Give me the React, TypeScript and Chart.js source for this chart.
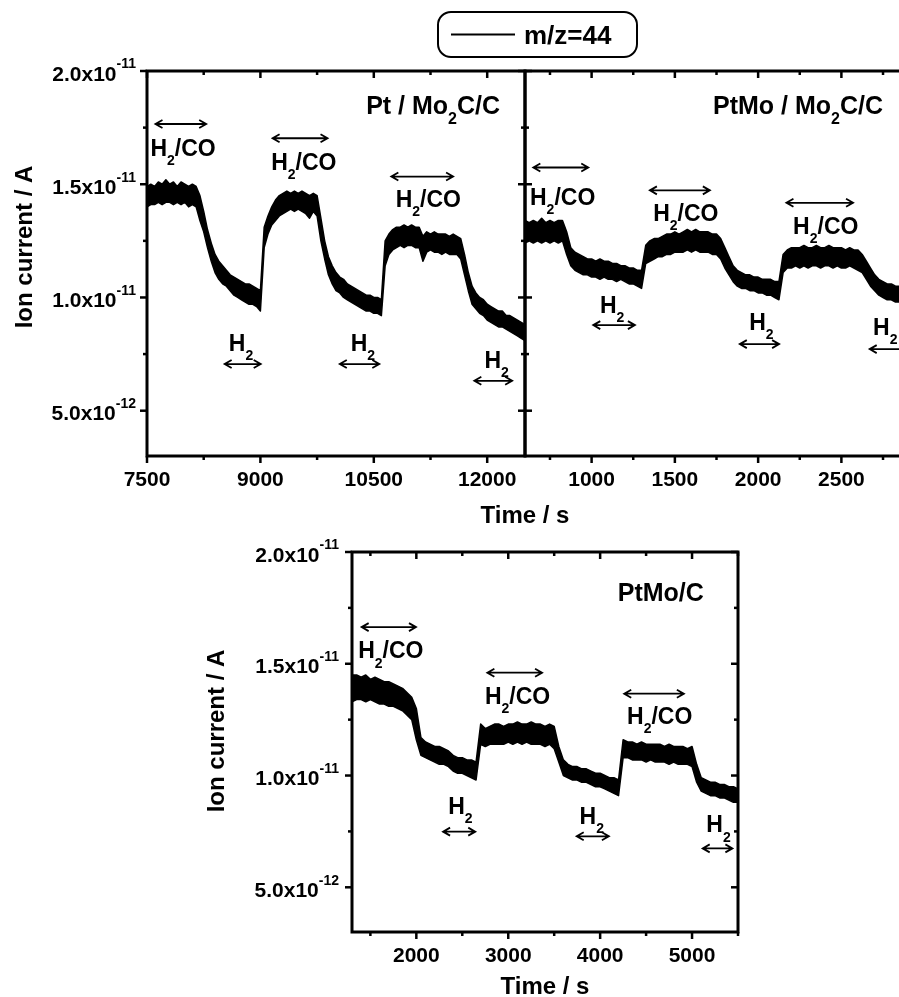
import React, { useEffect, useRef } from "react";
import { Chart, registerables } from "chart.js";

Chart.register(...registerables);

const FONT_FAMILY = '"Liberation Sans", Arial, Helvetica, sans-serif';

// ---------- Data (ion current in units of 1e-11 A) ----------
// The noisy m/z=44 trace is described by the upper and lower edges of its noise band.
// Panel 1: Pt / Mo2C/C, sampled every 50 s from 7500 s
const P1_T_START = 7500;
const P1_T_STEP = 50;
const P1_UPPER = [
  1.49, 1.50, 1.49, 1.51, 1.50, 1.52, 1.50, 1.51, 1.49, 1.51,
  1.50, 1.49, 1.50, 1.49, 1.45, 1.38, 1.30, 1.24, 1.19, 1.16,
  1.14, 1.12, 1.10, 1.09, 1.08, 1.07, 1.06, 1.06, 1.05, 1.04,
  1.03, 1.31, 1.36, 1.40, 1.43, 1.45, 1.46, 1.47, 1.46, 1.47,
  1.46, 1.47, 1.46, 1.45, 1.46, 1.45, 1.35, 1.25, 1.18, 1.14,
  1.11, 1.09, 1.08, 1.06, 1.05, 1.04, 1.03, 1.02, 1.01, 1.01,
  1.00, 1.00, 0.99, 1.25, 1.28, 1.30, 1.31, 1.31, 1.32, 1.31,
  1.32, 1.31, 1.31, 1.27, 1.29, 1.28, 1.29, 1.28, 1.28, 1.28,
  1.27, 1.28, 1.27, 1.26, 1.19, 1.11, 1.05, 1.02, 1.00, 0.99,
  0.97, 0.96, 0.95, 0.94, 0.94, 0.92, 0.92, 0.91, 0.90, 0.89,
  0.88,
];
const P1_LOWER = [
  1.40, 1.41, 1.41, 1.42, 1.41, 1.42, 1.42, 1.41, 1.42, 1.41,
  1.42, 1.40, 1.41, 1.40, 1.34, 1.29, 1.22, 1.16, 1.11, 1.08,
  1.06, 1.05, 1.03, 1.01, 1.00, 0.99, 0.98, 0.97, 0.97, 0.96,
  0.94, 1.22, 1.28, 1.32, 1.34, 1.36, 1.37, 1.38, 1.39, 1.38,
  1.39, 1.38, 1.37, 1.35, 1.38, 1.36, 1.25, 1.17, 1.10, 1.06,
  1.03, 1.02, 1.00, 0.99, 0.98, 0.97, 0.96, 0.95, 0.94, 0.94,
  0.93, 0.93, 0.92, 1.14, 1.19, 1.21, 1.22, 1.23, 1.22, 1.23,
  1.23, 1.22, 1.22, 1.16, 1.20, 1.21, 1.20, 1.20, 1.19, 1.20,
  1.19, 1.19, 1.19, 1.17, 1.10, 1.03, 0.97, 0.95, 0.93, 0.92,
  0.90, 0.89, 0.88, 0.87, 0.87, 0.86, 0.85, 0.84, 0.83, 0.82,
  0.81,
];

// Panel 2: PtMo / Mo2C/C, sampled every 25 s from 600 s
const P2_T_START = 600;
const P2_T_STEP = 25;
const P2_UPPER = [
  1.34, 1.33, 1.34, 1.33, 1.35, 1.33, 1.34, 1.33, 1.34, 1.34,
  1.29, 1.22, 1.20, 1.19, 1.18, 1.17, 1.17, 1.16, 1.17, 1.16,
  1.16, 1.15, 1.15, 1.14, 1.14, 1.13, 1.13, 1.12, 1.12, 1.23,
  1.25, 1.26, 1.26, 1.27, 1.28, 1.28, 1.29, 1.28, 1.29, 1.30,
  1.29, 1.30, 1.29, 1.29, 1.29, 1.28, 1.28, 1.26, 1.22, 1.18,
  1.14, 1.12, 1.11, 1.10, 1.10, 1.09, 1.09, 1.08, 1.08, 1.08,
  1.07, 1.07, 1.19, 1.21, 1.22, 1.22, 1.22, 1.23, 1.22, 1.22,
  1.23, 1.22, 1.22, 1.23, 1.22, 1.22, 1.22, 1.21, 1.22, 1.21,
  1.21, 1.19, 1.16, 1.13, 1.10, 1.08, 1.07, 1.06, 1.06, 1.05,
  1.05, 1.04, 1.04,
];
const P2_LOWER = [
  1.24, 1.25, 1.24, 1.25, 1.24, 1.25, 1.24, 1.25, 1.24, 1.25,
  1.19, 1.14, 1.12, 1.11, 1.10, 1.10, 1.09, 1.09, 1.08, 1.09,
  1.08, 1.08, 1.07, 1.08, 1.07, 1.06, 1.06, 1.05, 1.04, 1.15,
  1.16, 1.17, 1.18, 1.18, 1.19, 1.19, 1.20, 1.20, 1.20, 1.21,
  1.20, 1.21, 1.20, 1.20, 1.20, 1.19, 1.19, 1.17, 1.13, 1.10,
  1.07, 1.05, 1.04, 1.04, 1.03, 1.03, 1.02, 1.02, 1.01, 1.01,
  1.00, 0.99, 1.11, 1.13, 1.13, 1.14, 1.13, 1.14, 1.13, 1.14,
  1.14, 1.13, 1.14, 1.14, 1.13, 1.14, 1.13, 1.13, 1.14, 1.13,
  1.12, 1.11, 1.08, 1.05, 1.03, 1.01, 1.00, 0.99, 0.99, 0.98,
  0.98, 0.97, 0.97,
];

// Panel 3: PtMo/C, sampled every 50 s from 1300 s
const P3_T_START = 1300;
const P3_T_STEP = 50;
const P3_UPPER = [
  1.45, 1.45, 1.44, 1.45, 1.43, 1.44, 1.43, 1.42, 1.42, 1.41,
  1.40, 1.39, 1.37, 1.35, 1.30, 1.17, 1.15, 1.14, 1.13, 1.13,
  1.12, 1.11, 1.09, 1.08, 1.08, 1.07, 1.07, 1.06, 1.23, 1.21,
  1.22, 1.23, 1.23, 1.22, 1.23, 1.23, 1.24, 1.23, 1.23, 1.24,
  1.23, 1.23, 1.22, 1.23, 1.22, 1.13, 1.07, 1.05, 1.04, 1.04,
  1.03, 1.03, 1.02, 1.01, 1.01, 1.00, 0.99, 0.99, 0.98, 1.16,
  1.15, 1.15, 1.14, 1.15, 1.14, 1.14, 1.14, 1.14, 1.13, 1.14,
  1.13, 1.13, 1.13, 1.12, 1.13, 1.05, 0.99, 0.98, 0.97, 0.97,
  0.96, 0.96, 0.95, 0.95, 0.94,
];
const P3_LOWER = [
  1.33, 1.34, 1.34, 1.33, 1.34, 1.33, 1.32, 1.32, 1.31, 1.31,
  1.30, 1.29, 1.27, 1.25, 1.16, 1.09, 1.08, 1.07, 1.06, 1.05,
  1.05, 1.04, 1.02, 1.01, 1.01, 1.00, 0.99, 0.98, 1.14, 1.13,
  1.14, 1.14, 1.14, 1.14, 1.15, 1.14, 1.15, 1.14, 1.15, 1.14,
  1.14, 1.14, 1.13, 1.14, 1.12, 1.06, 1.00, 0.99, 0.98, 0.98,
  0.97, 0.97, 0.96, 0.95, 0.95, 0.94, 0.93, 0.92, 0.91, 1.08,
  1.08, 1.07, 1.07, 1.07, 1.06, 1.07, 1.06, 1.06, 1.06, 1.05,
  1.06, 1.05, 1.05, 1.05, 1.04, 0.97, 0.93, 0.92, 0.91, 0.91,
  0.90, 0.90, 0.89, 0.88, 0.88,
];

// ---------- Axes ----------
const Y_MIN = 0.3;
const Y_MAX = 2.0;
const Y_MAJOR = [0.5, 1.0, 1.5, 2.0];
const Y_MINOR = [0.75, 1.25, 1.75];

const P1_X_RANGE = [7500, 12500];
const P1_X_MAJOR = [7500, 9000, 10500, 12000];
const P1_X_MINOR = [8250, 9750, 11250];

const P2_X_RANGE = [600, 2900];
const P2_X_MAJOR = [1000, 1500, 2000, 2500];
const P2_X_MINOR = [750, 1250, 1750, 2250, 2750];

const P3_X_RANGE = [1300, 5500];
const P3_X_MAJOR = [2000, 3000, 4000, 5000];
const P3_X_MINOR = [1500, 2500, 3500, 4500, 5500];

// ---------- Annotations (data coordinates) ----------
type Part = [string, number]; // 0 normal, 1 subscript, 2 superscript
const H2CO: Part[] = [["H", 0], ["2", 1], ["/CO", 0]];
const H2: Part[] = [["H", 0], ["2", 1]];

const P1_ARROWS = [
  [7612, 8283, 1.766], [9161, 9888, 1.703], [10732, 11549, 1.534],
  [8527, 9004, 0.706], [10050, 10573, 0.706], [11830, 12330, 0.632],
];
const P1_LABELS: [Part[], number, number][] = [
  [H2CO, 7545, 1.66], [H2CO, 9143, 1.60], [H2CO, 10790, 1.435],
  [H2, 8583, 0.80], [H2, 10195, 0.80], [H2, 11963, 0.725],
];
const P1_TITLE: Part[] = [["Pt / Mo", 0], ["2", 1], ["C/C", 0]];
const P1_TITLE_AT = [12170, 1.85];

const P2_ARROWS = [
  [650, 980, 1.574], [1350, 1710, 1.473], [2170, 2570, 1.418],
  [1010, 1260, 0.878], [1890, 2126, 0.794], [2670, 2940, 0.772],
];
const P2_LABELS: [Part[], number, number][] = [
  [H2CO, 630, 1.447], [H2CO, 1370, 1.374], [H2CO, 2210, 1.318],
  [H2, 1050, 0.97], [H2, 1946, 0.892], [H2, 2690, 0.87],
];
const P2_TITLE: Part[] = [["PtMo / Mo", 0], ["2", 1], ["C/C", 0]];
const P2_TITLE_AT = [2750, 1.85];

const P3_ARROWS = [
  [1405, 1996, 1.664], [2773, 3368, 1.46], [4262, 4911, 1.366],
  [2291, 2641, 0.749], [3745, 4095, 0.728], [5116, 5439, 0.674],
];
const P3_LABELS: [Part[], number, number][] = [
  [H2CO, 1367, 1.561], [H2CO, 2746, 1.356], [H2CO, 4293, 1.269],
  [H2, 2346, 0.865], [H2, 3776, 0.82], [H2, 5155, 0.783],
];
const P3_TITLE: Part[] = [["PtMo/C", 0]];
const P3_TITLE_AT = [5128, 1.82];

const SERIES_LABEL = "m/z=44";
const Y_TITLE = "Ion current / A";
const X_TITLE = "Time / s";

// ---------- helpers ----------
function fontFor(kind: number, size: number) {
  const s = kind === 0 ? size : Math.round(size * (kind === 1 ? 0.62 : 0.68));
  return `bold ${s}px ${FONT_FAMILY}`;
}
function partsWidth(ctx: CanvasRenderingContext2D, parts: Part[], size: number) {
  let w = 0;
  for (const [s, k] of parts) {
    ctx.font = fontFor(k, size);
    w += ctx.measureText(s).width;
  }
  return w;
}
function drawParts(
  ctx: CanvasRenderingContext2D,
  parts: Part[],
  x: number,
  yc: number,
  size: number,
  align: "left" | "right" | "center"
) {
  const w = partsWidth(ctx, parts, size);
  let cx = align === "left" ? x : align === "right" ? x - w : x - w / 2;
  const base = yc + 0.36 * size;
  ctx.textAlign = "left";
  ctx.textBaseline = "alphabetic";
  ctx.fillStyle = "#000";
  for (const [s, k] of parts) {
    ctx.font = fontFor(k, size);
    const by = k === 1 ? base + 0.4 * size : k === 2 ? base - 0.58 * size : base;
    ctx.fillText(s, cx, by);
    cx += ctx.measureText(s).width;
  }
}
function drawArrow(ctx: CanvasRenderingContext2D, x1: number, x2: number, y: number) {
  ctx.beginPath();
  ctx.moveTo(x1, y);
  ctx.lineTo(x2, y);
  ctx.moveTo(x1 + 7, y - 4);
  ctx.lineTo(x1, y);
  ctx.lineTo(x1 + 7, y + 4);
  ctx.moveTo(x2 - 7, y - 4);
  ctx.lineTo(x2, y);
  ctx.lineTo(x2 - 7, y + 4);
  ctx.stroke();
}
function yTickParts(v: number): Part[] {
  const a = v * 1e-11;
  const e = Math.floor(Math.log10(a) + 1e-9);
  const m = a / Math.pow(10, e);
  return [[m.toFixed(1) + "x10", 0], [String(e), 2]];
}

type Side = "in" | "out" | "none";
interface PanelCfg {
  id: string;
  t0: number;
  dt: number;
  upper: number[];
  lower: number[];
  xRange: number[];
  xMajor: number[];
  xMinor: number[];
  area: { left: number; top: number; right: number; bottom: number };
  canvasW: number;
  canvasH: number;
  sides: { left: Side; right: Side; top: Side; bottom: Side };
  yLabels: boolean;
  yLabelGap: number;
  yTitleAt?: [number, number];
  xTitleAt?: [number, number];
  arrows: number[][];
  labels: [Part[], number, number][];
  title: Part[];
  titleAt: number[];
  legend?: boolean;
}

function makeDecor(cfg: PanelCfg) {
  return {
    id: "decor_" + cfg.id,
    afterDraw(chart: any) {
      const ctx: CanvasRenderingContext2D = chart.ctx;
      const xs = chart.scales.x;
      const ys = chart.scales.y;
      const a = chart.chartArea;
      ctx.save();
      ctx.strokeStyle = "#000";
      ctx.fillStyle = "#000";
      ctx.lineWidth = 2.5;
      ctx.lineCap = "butt";
      const MAJ = 7;
      const MIN = 4;
      const tick = (x1: number, y1: number, x2: number, y2: number) => {
        ctx.beginPath();
        ctx.moveTo(x1, y1);
        ctx.lineTo(x2, y2);
        ctx.stroke();
      };
      const xt: [number, number][] = [
        ...cfg.xMajor.map((v) => [v, MAJ] as [number, number]),
        ...cfg.xMinor.map((v) => [v, MIN] as [number, number]),
      ];
      for (const [v, len] of xt) {
        const px = xs.getPixelForValue(v);
        if (cfg.sides.bottom === "out") tick(px, a.bottom, px, a.bottom + len);
        if (cfg.sides.bottom === "in") tick(px, a.bottom, px, a.bottom - len);
        if (cfg.sides.top === "in") tick(px, a.top, px, a.top + len);
        if (cfg.sides.top === "out") tick(px, a.top, px, a.top - len);
      }
      const yt: [number, number][] = [
        ...Y_MAJOR.map((v) => [v, MAJ] as [number, number]),
        ...Y_MINOR.map((v) => [v, MIN] as [number, number]),
      ];
      for (const [v, len] of yt) {
        const py = ys.getPixelForValue(v);
        if (cfg.sides.left === "out") tick(a.left, py, a.left - len, py);
        if (cfg.sides.left === "in") tick(a.left, py, a.left + len, py);
        if (cfg.sides.right === "in") tick(a.right, py, a.right - len, py);
        if (cfg.sides.right === "out") tick(a.right, py, a.right + len, py);
      }
      // frame
      ctx.lineWidth = 3;
      ctx.strokeRect(a.left, a.top, a.right - a.left, a.bottom - a.top);
      // x tick labels
      ctx.font = `bold 21px ${FONT_FAMILY}`;
      ctx.textAlign = "center";
      ctx.textBaseline = "alphabetic";
      for (const v of cfg.xMajor) {
        const px = xs.getPixelForValue(v);
        ctx.fillText(String(v), px, a.bottom + 22 + 7.5);
      }
      // y tick labels
      if (cfg.yLabels) {
        for (const v of Y_MAJOR) {
          const py = ys.getPixelForValue(v);
          drawParts(ctx, yTickParts(v), a.left - cfg.yLabelGap, py + 2, 21, "right");
        }
      }
      // axis titles
      if (cfg.yTitleAt) {
        ctx.save();
        ctx.translate(cfg.yTitleAt[0], cfg.yTitleAt[1]);
        ctx.rotate(-Math.PI / 2);
        drawParts(ctx, [[Y_TITLE, 0]], 0, 0, 24, "center");
        ctx.restore();
      }
      if (cfg.xTitleAt) {
        drawParts(ctx, [[X_TITLE, 0]], cfg.xTitleAt[0], cfg.xTitleAt[1], 24, "center");
      }
      // annotations
      ctx.lineWidth = 1.8;
      for (const [t1, t2, v] of cfg.arrows) {
        drawArrow(ctx, xs.getPixelForValue(t1), xs.getPixelForValue(t2), ys.getPixelForValue(v));
      }
      for (const [parts, t, v] of cfg.labels) {
        drawParts(ctx, parts, xs.getPixelForValue(t), ys.getPixelForValue(v), 23, "left");
      }
      drawParts(
        ctx,
        cfg.title,
        xs.getPixelForValue(cfg.titleAt[0]),
        ys.getPixelForValue(cfg.titleAt[1]),
        25,
        "right"
      );
      // legend box
      if (cfg.legend) {
        ctx.lineWidth = 2;
        ctx.beginPath();
        const lx = 438, ly = 12, lw = 199, lh = 45, r = 13;
        ctx.moveTo(lx + r, ly);
        ctx.arcTo(lx + lw, ly, lx + lw, ly + lh, r);
        ctx.arcTo(lx + lw, ly + lh, lx, ly + lh, r);
        ctx.arcTo(lx, ly + lh, lx, ly, r);
        ctx.arcTo(lx, ly, lx + lw, ly, r);
        ctx.closePath();
        ctx.stroke();
        ctx.beginPath();
        ctx.moveTo(451, 34.5);
        ctx.lineTo(515, 34.5);
        ctx.stroke();
        drawParts(ctx, [[SERIES_LABEL, 0]], 524, 35, 26, "left");
      }
      ctx.restore();
    },
  };
}

const PANELS: PanelCfg[] = [
  {
    id: "p1",
    t0: P1_T_START,
    dt: P1_T_STEP,
    upper: P1_UPPER,
    lower: P1_LOWER,
    xRange: P1_X_RANGE,
    xMajor: P1_X_MAJOR,
    xMinor: P1_X_MINOR,
    area: { left: 147, top: 71, right: 525, bottom: 456 },
    canvasW: 899,
    canvasH: 540,
    sides: { left: "out", right: "in", top: "in", bottom: "out" },
    yLabels: true,
    yLabelGap: 11,
    yTitleAt: [23, 247],
    xTitleAt: [525, 514],
    arrows: P1_ARROWS,
    labels: P1_LABELS,
    title: P1_TITLE,
    titleAt: P1_TITLE_AT,
    legend: true,
  },
  {
    id: "p2",
    t0: P2_T_START,
    dt: P2_T_STEP,
    upper: P2_UPPER,
    lower: P2_LOWER,
    xRange: P2_X_RANGE,
    xMajor: P2_X_MAJOR,
    xMinor: P2_X_MINOR,
    area: { left: 525, top: 71, right: 908, bottom: 456 },
    canvasW: 940,
    canvasH: 540,
    sides: { left: "in", right: "in", top: "in", bottom: "out" },
    yLabels: false,
    yLabelGap: 11,
    arrows: P2_ARROWS,
    labels: P2_LABELS,
    title: P2_TITLE,
    titleAt: P2_TITLE_AT,
  },
  {
    id: "p3",
    t0: P3_T_START,
    dt: P3_T_STEP,
    upper: P3_UPPER,
    lower: P3_LOWER,
    xRange: P3_X_RANGE,
    xMajor: P3_X_MAJOR,
    xMinor: P3_X_MINOR,
    area: { left: 352, top: 552, right: 738, bottom: 932 },
    canvasW: 899,
    canvasH: 997,
    sides: { left: "out", right: "in", top: "in", bottom: "out" },
    yLabels: true,
    yLabelGap: 13,
    yTitleAt: [215, 731],
    xTitleAt: [545, 985],
    arrows: P3_ARROWS,
    labels: P3_LABELS,
    title: P3_TITLE,
    titleAt: P3_TITLE_AT,
  },
];

function Panel({ cfg }: { cfg: PanelCfg }) {
  const ref = useRef<HTMLCanvasElement | null>(null);
  useEffect(() => {
    if (!ref.current) return;
    const up = cfg.upper.map((v, i) => ({ x: cfg.t0 + i * cfg.dt, y: v }));
    const lo = cfg.lower.map((v, i) => ({ x: cfg.t0 + i * cfg.dt, y: v }));
    const chart = new Chart(ref.current, {
      type: "line",
      data: {
        datasets: [
          {
            label: SERIES_LABEL,
            data: up,
            borderColor: "#000",
            backgroundColor: "#000",
            borderWidth: 1.5,
            borderJoinStyle: "round",
            pointRadius: 0,
            tension: 0,
            fill: "+1",
          },
          {
            label: SERIES_LABEL + " (lower)",
            data: lo,
            borderColor: "#000",
            borderWidth: 1.5,
            borderJoinStyle: "round",
            pointRadius: 0,
            tension: 0,
            fill: false,
          },
        ],
      },
      options: {
        responsive: false,
        maintainAspectRatio: false,
        devicePixelRatio: 1,
        animation: false,
        events: [],
        layout: {
          padding: {
            left: cfg.area.left,
            top: cfg.area.top,
            right: cfg.canvasW - cfg.area.right,
            bottom: cfg.canvasH - cfg.area.bottom,
          },
        },
        plugins: {
          legend: { display: false },
          title: { display: false },
          tooltip: { enabled: false },
        },
        scales: {
          x: { type: "linear", display: false, min: cfg.xRange[0], max: cfg.xRange[1] },
          y: { type: "linear", display: false, min: Y_MIN, max: Y_MAX },
        },
      },
      plugins: [makeDecor(cfg)],
    } as any);
    return () => chart.destroy();
  }, [cfg]);
  return (
    <canvas
      ref={ref}
      width={cfg.canvasW}
      height={cfg.canvasH}
      style={{ position: "absolute", left: 0, top: 0, width: cfg.canvasW, height: cfg.canvasH }}
    />
  );
}

export default function App() {
  return (
    <div
      style={{
        position: "fixed",
        left: 0,
        top: 0,
        width: 899,
        height: 997,
        overflow: "hidden",
        background: "#fff",
      }}
    >
      {PANELS.map((p) => (
        <Panel key={p.id} cfg={p} />
      ))}
    </div>
  );
}
